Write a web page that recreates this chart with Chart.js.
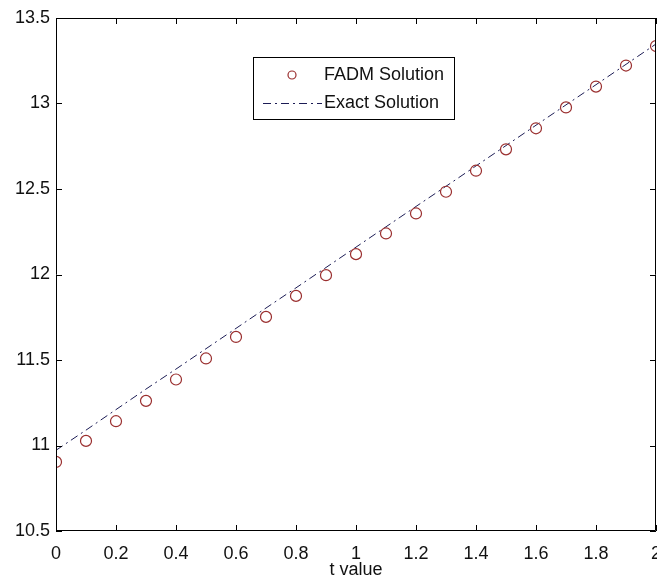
<!DOCTYPE html>
<html>
<head>
<meta charset="utf-8">
<script src="https://cdn.jsdelivr.net/npm/chart.js@4.4.0/dist/chart.umd.min.js"></script>
<style>
    html, body { margin: 0; padding: 0; background: #fff; overflow: hidden; }
    #wrap { width: 657px; height: 583px; position: relative; }
    canvas { display: block; }
</style>
</head>
<body>
<div id="wrap"><canvas id="mainChart"></canvas></div>
<script>
// values
const tValues = [0, 0.1, 0.2, 0.3, 0.4, 0.5, 0.6, 0.7, 0.8, 0.9, 1.0, 1.1, 1.2, 1.3, 1.4, 1.5, 1.6, 1.7, 1.8, 1.9, 2.0];
const fadmValues = [10.904, 11.027, 11.142, 11.261, 11.386, 11.509, 11.635, 11.752, 11.875, 11.996, 12.119,
    12.240, 12.357, 12.484, 12.607, 12.732, 12.855, 12.977, 13.099, 13.222, 13.336];
const exactValues = [10.972, 11.090, 11.210, 11.330, 11.447, 11.566, 11.685, 11.804, 11.922, 12.041, 12.160,
    12.279, 12.398, 12.516, 12.635, 12.754, 12.873, 12.992, 13.110, 13.229, 13.348];

const xTickLabels = ['0', '0.2', '0.4', '0.6', '0.8', '1', '1.2', '1.4', '1.6', '1.8', '2'];
const yTickLabels = ['10.5', '11', '11.5', '12', '12.5', '13', '13.5'];
const legendLabels = ['FADM Solution', 'Exact Solution'];
const xTitle = 't value';

const circleColor = '#9a2e2e';
const lineColor = '#1c1c55';
const dashDot = [8, 4, 2, 4];
const fontFamily = "'Liberation Sans', Arial, sans-serif";

const toPoints = (ys) => tValues.map((t, i) => ({ x: t, y: ys[i] }));

// box + inward ticks on all four sides, like matlab axes
const boxPlugin = {
    id: 'boxPlugin',
    afterDraw(chart) {
        const { ctx, chartArea: a, scales } = chart;
        ctx.save();
        ctx.strokeStyle = '#000';
        ctx.lineWidth = 1;
        ctx.beginPath();
        ctx.rect(a.left + 0.5, a.top + 0.5, a.right - a.left - 1, a.bottom - a.top - 1);
        const len = 6;
        scales.x.ticks.forEach(tk => {
            const px = Math.round(scales.x.getPixelForValue(tk.value)) + 0.5;
            ctx.moveTo(px, a.bottom); ctx.lineTo(px, a.bottom - len);
            ctx.moveTo(px, a.top); ctx.lineTo(px, a.top + len);
        });
        scales.y.ticks.forEach(tk => {
            const py = Math.round(scales.y.getPixelForValue(tk.value)) + 0.5;
            ctx.moveTo(a.left, py); ctx.lineTo(a.left + len, py);
            ctx.moveTo(a.right, py); ctx.lineTo(a.right - len, py);
        });
        ctx.stroke();

        // legend box
        const lx = a.left + 197, ly = a.top + 39, lw = 201, lh = 62;
        ctx.fillStyle = '#fff';
        ctx.fillRect(lx, ly, lw, lh);
        ctx.strokeRect(lx + 0.5, ly + 0.5, lw, lh);
        ctx.font = '18px ' + fontFamily;
        ctx.fillStyle = '#111';
        ctx.textBaseline = 'middle';
        const row1 = ly + 18, row2 = ly + 46;
        ctx.fillText(legendLabels[0], lx + 71, row1);
        ctx.fillText(legendLabels[1], lx + 71, row2);
        ctx.strokeStyle = circleColor;
        ctx.lineWidth = 1.2;
        ctx.beginPath();
        ctx.arc(lx + 39, row1, 4, 0, Math.PI * 2);
        ctx.stroke();
        ctx.strokeStyle = lineColor;
        ctx.lineWidth = 1;
        ctx.setLineDash(dashDot);
        ctx.beginPath();
        ctx.moveTo(lx + 10, row2 + 0.5);
        ctx.lineTo(lx + 69, row2 + 0.5);
        ctx.stroke();
        ctx.restore();
    }
};

new Chart(document.getElementById('mainChart').getContext('2d'), {
    type: 'scatter',
    data: {
        datasets: [
            {
                label: legendLabels[0],
                data: toPoints(fadmValues),
                showLine: false,
                pointStyle: 'circle',
                pointRadius: 5.5,
                pointBorderWidth: 1.2,
                pointBorderColor: circleColor,
                pointBackgroundColor: 'rgba(0,0,0,0)',
                order: 1
            },
            {
                label: legendLabels[1],
                data: toPoints(exactValues),
                showLine: true,
                borderColor: lineColor,
                borderWidth: 1,
                borderDash: dashDot,
                pointRadius: 0,
                fill: false,
                order: 2
            }
        ]
    },
    options: {
        responsive: true,
        maintainAspectRatio: false,
        animation: false,
        devicePixelRatio: 1,
        layout: { autoPadding: false, padding: { top: 18, right: 1, bottom: 2, left: 0 } },
        plugins: { legend: { display: false }, tooltip: { enabled: false } },
        scales: {
            x: {
                type: 'linear',
                min: 0,
                max: 2,
                afterBuildTicks: (scale) => {
                    scale.ticks = xTickLabels.map(l => ({ value: parseFloat(l) }));
                },
                afterFit: (scale) => {
                    scale.height = 50;
                    // let the last label run off the edge like the original
                    scale.paddingLeft = 0;
                    scale.paddingRight = 0;
                },
                ticks: {
                    callback: (v, i) => xTickLabels[i],
                    font: { family: fontFamily, size: 18 },
                    color: '#111',
                    padding: 12,
                    maxRotation: 0,
                    autoSkip: false
                },
                grid: { drawOnChartArea: false, drawTicks: false },
                border: { display: false },
                title: {
                    display: true,
                    text: xTitle,
                    font: { family: fontFamily, size: 18 },
                    color: '#111',
                    padding: 0
                }
            },
            y: {
                type: 'linear',
                min: 10.5,
                max: 13.5,
                afterBuildTicks: (scale) => {
                    scale.ticks = yTickLabels.map(l => ({ value: parseFloat(l) }));
                },
                afterFit: (scale) => {
                    scale.width = 56;
                    scale.paddingTop = 0;
                    scale.paddingBottom = 0;
                },
                ticks: {
                    callback: (v, i) => yTickLabels[i],
                    font: { family: fontFamily, size: 18 },
                    color: '#111',
                    padding: 6,
                    autoSkip: false
                },
                grid: { drawOnChartArea: false, drawTicks: false },
                border: { display: false }
            }
        }
    },
    plugins: [boxPlugin]
});
</script>
</body>
</html>
